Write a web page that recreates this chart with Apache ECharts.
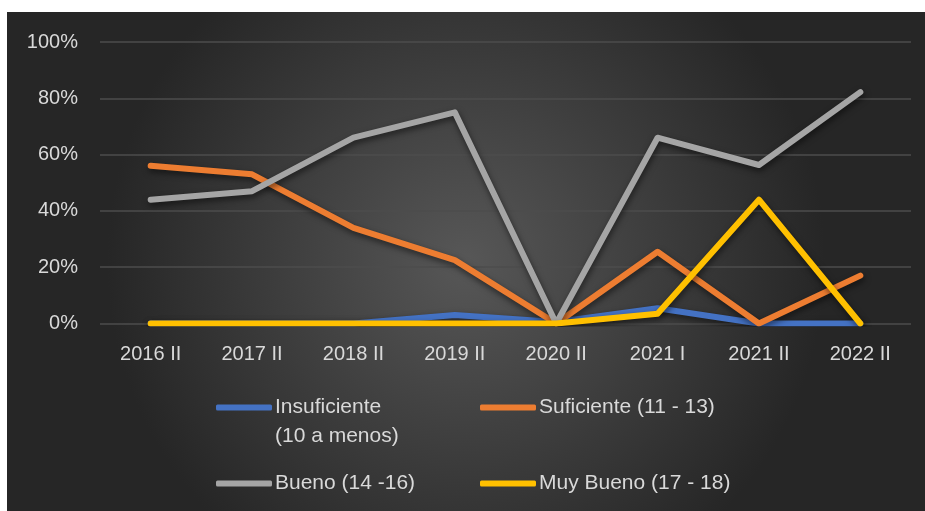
<!DOCTYPE html>
<html>
<head>
<meta charset="utf-8">
<script src="https://cdn.jsdelivr.net/npm/echarts@6/dist/echarts.min.js"></script>
<style>
html,body{margin:0;padding:0;background:#ffffff;}
#chart{position:absolute;left:7px;top:12px;width:918px;height:499px;}
</style>
</head>
<body>
<div id="chart"></div>
<script>
const categories = ['2016 II','2017 II','2018 II','2019 II','2020 II','2021 I','2021 II','2022 II'];
const yTicks = [0, 20, 40, 60, 80, 100];
const insuficiente = [0, 0, 0, 3, 0.5, 5.4, 0, 0];
const suficiente = [56, 53, 34, 22.5, 0, 25.5, 0, 17];
const bueno = [44, 47, 66, 75, 0, 66, 56.3, 82.2];
const muyBueno = [0, 0, 0, 0, 0, 3.5, 44, 0];
const seriesNames = ['Insuficiente (10 a menos)', 'Suficiente (11 - 13)', 'Bueno (14 -16)', 'Muy Bueno (17 - 18)'];
const legendLines = [['Insuficiente', '(10 a menos)'], ['Suficiente (11 - 13)'], ['Bueno (14 -16)'], ['Muy Bueno (17 - 18)']];
const seriesColors = ['#4472C4', '#ED7D31', '#A5A5A5', '#FFC000'];
const seriesData = [insuficiente, suficiente, bueno, muyBueno];

const chart = echarts.init(document.getElementById('chart'));
const font = 'Liberation Sans, Arial, sans-serif';
const textColor = '#d9d9d9';
const fs = 20;
const lfs = 21;

const legendPos = [
  {left: 209, top: 385},
  {left: 473, top: 385},
  {left: 209, top: 461},
  {left: 473, top: 461}
];

const legends = seriesNames.map((n, i) => ({
  data: [n],
  left: legendPos[i].left,
  top: legendPos[i].top,
  orient: 'horizontal',
  padding: 0,
  icon: 'roundRect',
  itemWidth: 56,
  itemHeight: 6,
  selectedMode: false,
  formatter: () => legendLines[i][0],
  textStyle: {color: textColor, fontSize: lfs, fontFamily: font, padding: [0, 0, 0, -2]}
}));

chart.setOption({
  backgroundColor: {
    type: 'radial', x: 0.5, y: 0.5, r: 0.72,
    colorStops: [
      {offset: 0, color: '#575757'},
      {offset: 1, color: '#262626'}
    ]
  },
  animation: false,
  legend: legends,
  graphic: [{
    type: 'text',
    left: 268,
    top: 414,
    style: {text: legendLines[0][1], fill: textColor, fontSize: lfs, fontFamily: font}
  }],
  grid: {left: 93, right: 14, top: 30, bottom: 187.5, containLabel: false},
  xAxis: {
    type: 'category',
    data: categories,
    boundaryGap: true,
    axisLine: {show: false},
    axisTick: {show: false},
    axisLabel: {color: textColor, fontSize: fs, fontFamily: font, margin: 21}
  },
  yAxis: {
    type: 'value',
    min: yTicks[0],
    max: yTicks[yTicks.length - 1],
    interval: 20,
    axisLine: {show: false},
    axisTick: {show: false},
    axisLabel: {color: textColor, fontSize: fs, fontFamily: font, margin: 22, formatter: v => v + '%'},
    splitLine: {lineStyle: {color: '#4d4d4d', width: 1.5}}
  },
  series: seriesNames.map((n, i) => ({
    name: n,
    type: 'line',
    data: seriesData[i],
    symbol: 'none',
    smooth: false,
    itemStyle: {color: seriesColors[i]},
    lineStyle: {
      color: seriesColors[i], width: 6, cap: 'round', join: 'round',
      shadowColor: 'rgba(0,0,0,0.55)', shadowBlur: 6, shadowOffsetX: 1, shadowOffsetY: 3
    }
  }))
});
</script>
</body>
</html>
